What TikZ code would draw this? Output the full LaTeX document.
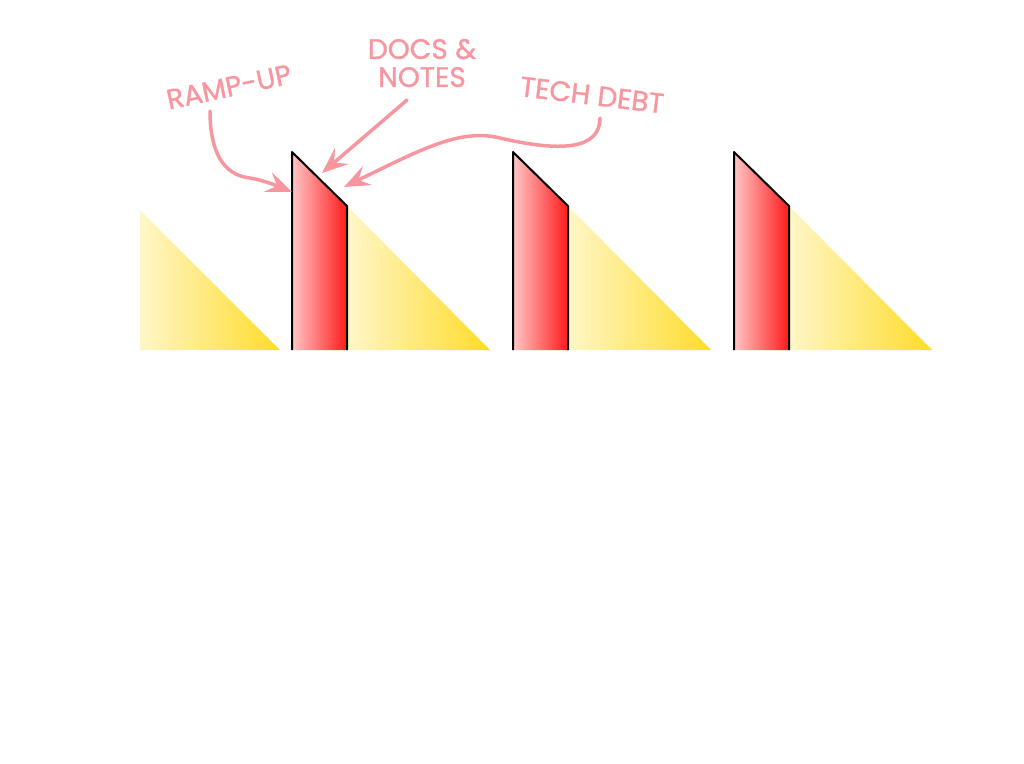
\documentclass[tikz,border=0pt]{standalone}
\usepackage{fontspec}
\setmainfont{Poppins}
\newfontfamily\lblfont[FakeBold=1.2]{Poppins}
\usetikzlibrary{arrows.meta}
\definecolor{lbl}{RGB}{248,150,160}
\definecolor{redL}{RGB}{255,198,198}
\definecolor{redR}{RGB}{255,26,26}
\definecolor{yelL}{RGB}{255,246,200}
\definecolor{yelR}{RGB}{255,220,40}
\tikzset{
  lbltext/.style={text=lbl, font=\lblfont\fontsize{28}{28}\selectfont, inner sep=0pt, align=center},
  callout/.style={draw=lbl, line width=3.5pt, line cap=round,
    -{Stealth[length=26pt, width=21pt, inset=10pt]}},
  redbar/.style={left color=redL, right color=redR},
  yelwedge/.style={left color=yelL, right color=yelR},
  baredge/.style={draw=black, line width=2pt, line join=round}
}
\begin{document}
\begin{tikzpicture}[x=1pt,y=-1pt]
\useasboundingbox (0,0) rectangle (1024,763);
% first yellow wedge
\shade[yelwedge] (140,210) -- (280,350) -- (140,350) -- cycle;
% bars and wedges
\foreach \x in {0,221,442}{
  \shade[yelwedge] (347+\x,206) -- (490+\x,350) -- (347+\x,350) -- cycle;
  \shade[redbar] (292+\x,152) -- (347+\x,206) -- (347+\x,350) -- (292+\x,350) -- cycle;
  \draw[baredge] (292+\x,350) -- (292+\x,152) -- (347+\x,206) -- (347+\x,350);
}
% labels
\node[lbltext, rotate=12] (ramp) at (229,87) {RAMP-UP};
\node[lbltext] (docs) at (422,63) {DOCS \&\\NOTES};
\node[lbltext, rotate=-7] (debt) at (592,95) {TECH DEBT};
% tips
\coordinate (tipA) at (292,192);
\coordinate (tipB) at (322,173);
\coordinate (tipC) at (344,187);
\coordinate (startA) at (210,111);
\coordinate (startB) at (407,100);
\coordinate (startC) at (600,118);
\draw[callout] (startA) .. controls (210,150) and (222,175) .. (250,178) .. controls (262,180) and (275,185) .. (tipA);
\draw[callout] (startB) -- (tipB);
\draw[callout] (startC) .. controls (600,150) and (560,152) .. (500,138) .. controls (460,128) and (420,150) .. (tipC);
\end{tikzpicture}
\end{document}
